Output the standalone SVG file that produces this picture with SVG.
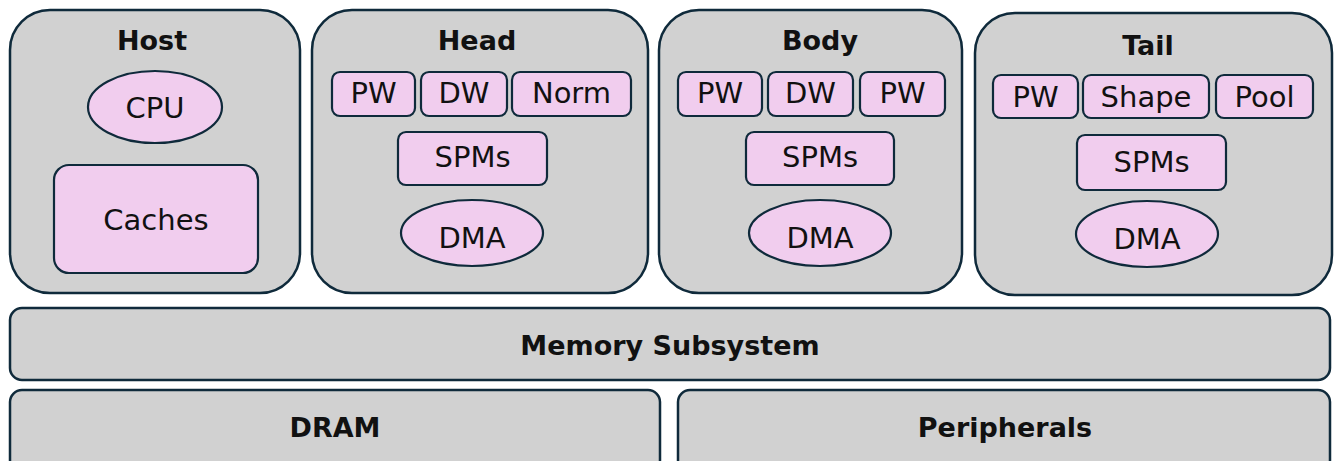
<svg xmlns="http://www.w3.org/2000/svg" width="1338" height="461" viewBox="0 0 1338 461">
<style>
.big{fill:#d1d1d1;stroke:#0f2a3b;stroke-width:2.5}
.sub{fill:#f1cdee;stroke:#0f2a3b;stroke-width:2.2}
.t{font-family:"DejaVu Sans",sans-serif;font-size:29px;fill:#111;text-anchor:middle}
.b{font-family:"DejaVu Sans",sans-serif;font-weight:bold;font-size:27px;fill:#111;text-anchor:middle}
</style>
<rect width="1338" height="461" fill="#fff"/>
<g id="host">
<rect class="big" x="10" y="10" width="290" height="283" rx="40"/>
<text class="b" x="152" y="50">Host</text>
<ellipse class="sub" cx="155" cy="107" rx="67" ry="36"/>
<text class="t" x="155" y="118">CPU</text>
<rect class="sub" x="54" y="165" width="204" height="108" rx="15"/>
<text class="t" x="156" y="230">Caches</text>
</g>
<g id="head">
<rect class="big" x="312" y="10" width="336" height="283" rx="40"/>
<text class="b" x="477" y="50">Head</text>
<rect class="sub" x="332" y="72" width="83" height="44" rx="8"/>
<text class="t" x="373.5" y="103">PW</text>
<rect class="sub" x="421" y="72" width="86" height="44" rx="8"/>
<text class="t" x="464" y="103">DW</text>
<rect class="sub" x="512" y="72" width="119" height="44" rx="8"/>
<text class="t" x="571.5" y="103">Norm</text>
<rect class="sub" x="398" y="132" width="149" height="53" rx="8"/>
<text class="t" x="472.5" y="167">SPMs</text>
<ellipse class="sub" cx="472" cy="233" rx="71" ry="33"/>
<text class="t" x="472" y="248">DMA</text>
</g>
<g id="body">
<rect class="big" x="659" y="10" width="303" height="283" rx="40"/>
<text class="b" x="820" y="50">Body</text>
<rect class="sub" x="678" y="72" width="84" height="44" rx="8"/>
<text class="t" x="720" y="103">PW</text>
<rect class="sub" x="768" y="72" width="85" height="44" rx="8"/>
<text class="t" x="810.5" y="103">DW</text>
<rect class="sub" x="860" y="72" width="85" height="44" rx="8"/>
<text class="t" x="902.5" y="103">PW</text>
<rect class="sub" x="746" y="132" width="148" height="53" rx="8"/>
<text class="t" x="820" y="167">SPMs</text>
<ellipse class="sub" cx="820" cy="233" rx="71" ry="33"/>
<text class="t" x="820" y="248">DMA</text>
</g>
<g id="tail">
<rect class="big" x="975" y="13" width="357" height="282" rx="40"/>
<text class="b" x="1148" y="55">Tail</text>
<rect class="sub" x="993" y="75" width="85" height="43" rx="8"/>
<text class="t" x="1035.5" y="107">PW</text>
<rect class="sub" x="1083" y="75" width="126" height="43" rx="8"/>
<text class="t" x="1146" y="107">Shape</text>
<rect class="sub" x="1216" y="75" width="97" height="43" rx="8"/>
<text class="t" x="1264.5" y="107">Pool</text>
<rect class="sub" x="1077" y="135" width="149" height="55" rx="8"/>
<text class="t" x="1151.5" y="172">SPMs</text>
<ellipse class="sub" cx="1147" cy="234" rx="71" ry="33"/>
<text class="t" x="1147" y="249">DMA</text>
</g>
<g id="memory">
<rect class="big" x="10" y="308" width="1320" height="72" rx="12"/>
<text class="b" x="670" y="355">Memory Subsystem</text>
</g>
<g id="dram">
<rect class="big" x="10" y="390" width="650" height="82" rx="12"/>
<text class="b" x="335" y="437">DRAM</text>
</g>
<g id="peripherals">
<rect class="big" x="678" y="390" width="652" height="82" rx="12"/>
<text class="b" x="1005" y="437">Peripherals</text>
</g>
<g id="connectors"/>
</svg>
